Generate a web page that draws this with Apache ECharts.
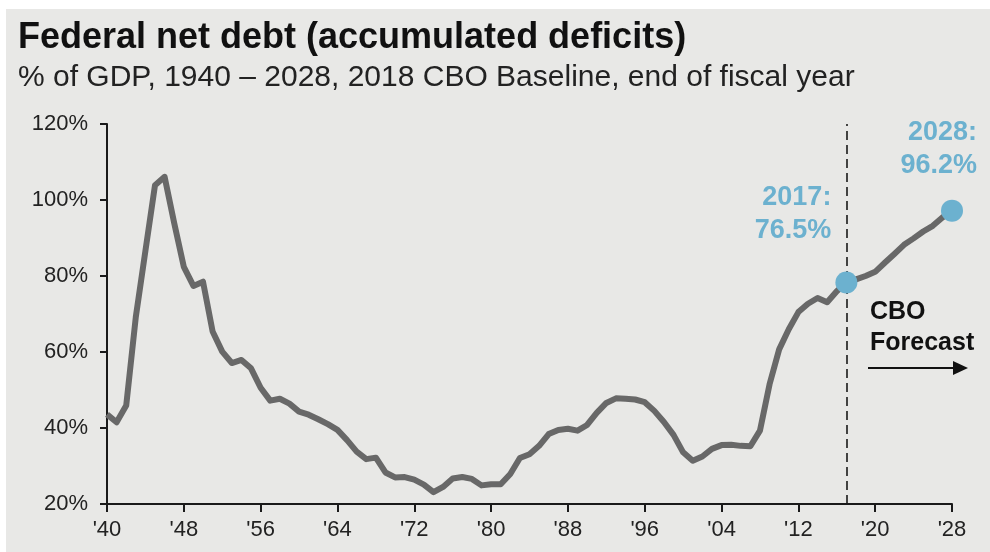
<!DOCTYPE html>
<html>
<head>
<meta charset="utf-8">
<script src="https://cdn.jsdelivr.net/npm/echarts@6/dist/echarts.min.js"></script>
<style>
html, body { margin: 0; padding: 0; background: #fff; }
#chart { width: 990px; height: 552px; }
</style>
</head>
<body>
<div id="chart"></div>
<script>
// net debt, % of GDP, end of fiscal year
var firstYear = 1940;
var debtHistory = [
  43.6, 41.5, 45.9, 69.2, 86.6, 103.9, 106.1, 93.9, 82.4, 77.4,   // 1940s
  78.5, 65.4, 60.1, 57.1, 57.9, 55.7, 50.6, 47.2, 47.7, 46.4,     // 1950s
  44.3, 43.5, 42.3, 41.0, 39.5, 36.8, 33.8, 31.8, 32.2, 28.3,     // 1960s
  27.0, 27.1, 26.4, 25.1, 23.1, 24.5, 26.7, 27.1, 26.6, 24.9,     // 1970s
  25.2, 25.2, 27.9, 32.1, 33.1, 35.3, 38.4, 39.5, 39.8, 39.3,     // 1980s
  40.8, 44.0, 46.6, 47.8, 47.7, 47.5, 46.8, 44.5, 41.6, 38.2,     // 1990s
  33.6, 31.4, 32.5, 34.5, 35.5, 35.6, 35.3, 35.2, 39.3, 51.5,     // 2000s
  60.7, 66.0, 70.5, 72.7, 74.2, 73.1, 76.0, 78.3                  // 2010-2017
];
// CBO 2018 baseline, 2018-2028
var debtForecast = [79.1, 80.0, 81.1, 83.5, 85.8, 88.2, 89.9, 91.7, 93.2, 95.4, 97.2];

var calloutYears = ['2017', '2028'];
var calloutText = ['2017:\n76.5%', '2028:\n96.2%'];
var forecastYear = '2017';

var debt = debtHistory.concat(debtForecast);
var years = [];
for (var i = 0; i < debt.length; i++) years.push(String(firstYear + i));

var font = "'Liberation Sans', Arial, sans-serif";
var blue = '#6cb1cf';

var myChart = echarts.init(document.getElementById('chart'));

var option = {
  backgroundColor: '#e8e8e6',
  animation: false,
  textStyle: { fontFamily: font },
  title: {
    text: 'Federal net debt (accumulated deficits)',
    subtext: '% of GDP, 1940 \u2013 2028, 2018 CBO Baseline, end of fiscal year',
    left: 13,
    top: 15,
    itemGap: 7,
    textStyle: { fontFamily: font, fontSize: 36, fontWeight: 'bold', color: '#111' },
    subtextStyle: { fontFamily: font, fontSize: 30, color: '#222' }
  },
  grid: { left: 107, right: 38, top: 124, bottom: 48 },
  xAxis: {
    type: 'category',
    boundaryGap: false,
    data: years,
    axisLine: { lineStyle: { color: '#1a1a1a', width: 2 } },
    axisTick: { show: true, interval: 7, length: 8, lineStyle: { color: '#1a1a1a', width: 2 } },
    axisLabel: {
      interval: 7,
      margin: 15,
      fontSize: 22,
      color: '#222',
      formatter: function (v) { return "'" + v.slice(2); }
    },
    splitLine: { show: false }
  },
  yAxis: {
    type: 'value',
    min: 20,
    max: 120,
    interval: 20,
    axisLine: { show: true, lineStyle: { color: '#1a1a1a', width: 2 } },
    axisTick: { show: true, length: 7, lineStyle: { color: '#1a1a1a', width: 2 } },
    axisLabel: { margin: 19, fontSize: 22, color: '#222', formatter: '{value}%' },
    splitLine: { show: false }
  },
  series: [{
    type: 'line',
    data: debt,
    showSymbol: false,
    lineStyle: { color: '#686868', width: 6, join: 'round' },
    z: 2,
    markLine: {
      silent: true,
      symbol: ['none', 'none'],
      label: { show: false },
      lineStyle: { color: '#1a1a1a', width: 1.6, type: [9, 5] },
      data: [{ xAxis: forecastYear }]
    }
  }, {
    type: 'scatter',
    symbolSize: 22,
    itemStyle: { color: blue, opacity: 1 },
    z: 5,
    data: calloutYears.map(function (y, k) {
      var v = debt[years.indexOf(y)];
      return {
        value: [y, v],
        label: {
          show: true,
          formatter: calloutText[k],
          position: 'left',
          distance: 4,
          offset: k === 0 ? [0, -68] : [40, -62],
          align: 'right',
          color: blue,
          fontSize: 27,
          fontWeight: 'bold',
          lineHeight: 33,
          fontFamily: font
        }
      };
    })
  }],
  graphic: [
    { type: 'rect', shape: { x: 0, y: 0, width: 990, height: 9 }, style: { fill: '#fff' }, silent: true },
    { type: 'rect', shape: { x: 0, y: 0, width: 6, height: 552 }, style: { fill: '#fff' }, silent: true },
    {
      type: 'text', left: 870, top: 297,
      style: { text: 'CBO\nForecast', font: 'bold 25px ' + font, fill: '#111', lineHeight: 31 }
    },
    { type: 'line', shape: { x1: 868, y1: 368, x2: 955, y2: 368 }, style: { stroke: '#111', lineWidth: 2 } },
    { type: 'polygon', shape: { points: [[953, 361], [968, 368], [953, 375]] }, style: { fill: '#111' } }
  ]
};

myChart.setOption(option);
window.onresize = myChart.resize;
</script>
</body>
</html>
